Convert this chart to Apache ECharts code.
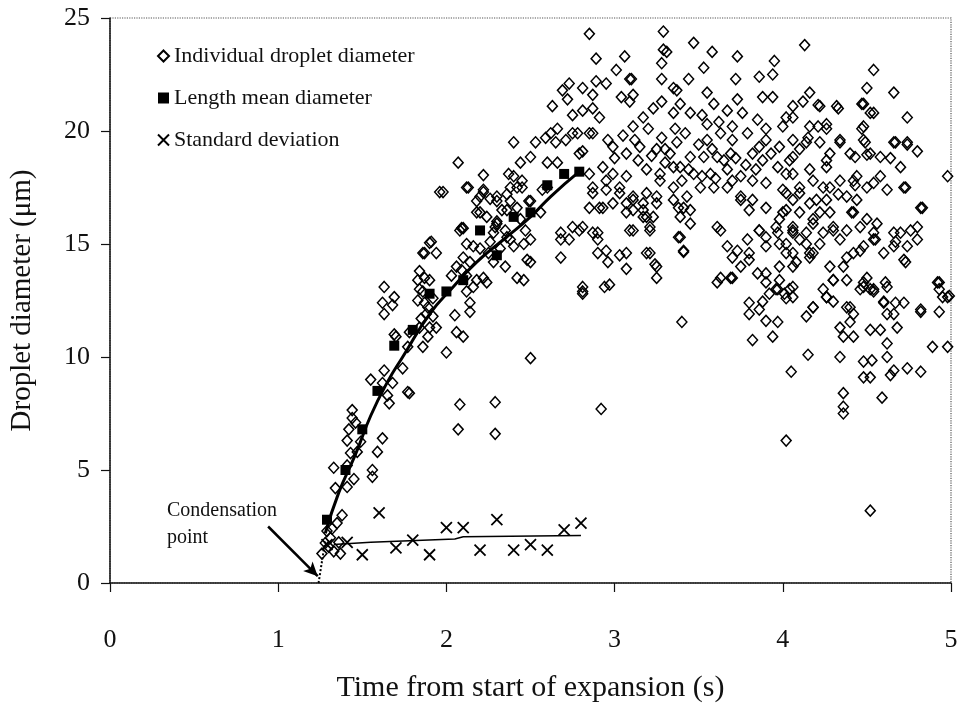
<!DOCTYPE html>
<html>
<head>
<meta charset="utf-8">
<script src="https://cdn.jsdelivr.net/npm/echarts@6/dist/echarts.min.js"></script>
<style>
  html, body { margin: 0; padding: 0; background: #fff; }
  #chart { width: 966px; height: 713px; }
</style>
</head>
<body>
<div id="chart"></div>
<script>
// ---- Data (time s, diameter µm) ----
const individualDroplets = [
  [1.26,1.3],[1.28,1.77],[1.31,2.0],[1.35,2.65],[1.33,1.4],[1.37,1.3],[1.30,1.6],[1.36,1.8],[1.29,2.3],[1.32,2.4],
  [1.34,4.2],[1.33,5.1],[1.41,4.25],[1.45,4.6],[1.41,5.2],[1.43,5.75],[1.41,6.3],[1.42,6.8],[1.44,7.3],[1.47,5.8],
  [1.49,6.25],[1.62,6.4],[1.59,5.8],[1.56,5.0],[1.56,4.7],[1.66,7.95],[1.65,8.3],[1.77,8.45],[1.78,8.4],[2.08,7.9],
  [2.07,6.8],[1.55,9.0],[1.62,8.85],[1.44,7.65],[1.63,9.4],[2.29,8.0],[2.29,6.6],[1.38,3.0],[1.46,7.1],
  [1.96,17.3],[2.12,17.5],[2.22,17.3],[1.91,15.1],[1.87,14.6],[1.94,14.6],[1.63,13.1],[1.69,12.65],[1.62,12.4],[1.63,11.9],
  [1.68,12.3],[1.84,13.8],[1.83,13.4],[1.87,13.5],[1.90,13.4],[1.84,13.0],[1.83,12.5],[1.87,12.4],[1.88,11.9],[1.92,11.8],
  [1.94,11.3],[1.90,11.3],[1.84,11.3],[1.69,11.0],[1.86,10.45],[1.89,10.9],[1.77,10.45],[1.74,9.5],[2.00,10.2],[2.05,11.85],
  [2.06,11.1],[2.10,10.9],[2.14,12.0],[2.14,12.4],[2.12,12.9],[2.16,13.1],[2.09,13.85],[2.14,14.2],[2.10,14.4],[2.12,15.0],
  [2.16,14.9],[2.10,15.7],[2.18,16.4],[2.24,16.2],[2.30,16.0],[2.28,15.5],[2.35,15.6],[2.28,14.2],[2.35,14.0],[2.22,13.5],
  [2.24,13.3],[2.18,13.4],[2.42,13.5],[2.46,13.4],[2.50,14.2],[2.40,14.9],[2.46,15.0],[2.38,15.2],[2.50,15.2],[2.42,16.6],
  [2.50,16.9],[2.56,16.4],[2.57,17.4],[2.42,17.5],[2.68,15.2],[2.68,14.4],[2.50,9.95],[2.30,17.1],[2.18,16.9],[1.78,11.1],
  [1.70,10.9],[1.68,8.85],[1.90,15.05],[1.86,14.6],[2.08,15.6],[2.20,16.4],[2.30,15.9],[2.48,14.3],[2.73,15.2],[2.90,15.2],
  [2.90,14.6],[2.81,15.75],[2.79,19.0],[2.85,19.9],[2.75,19.9],[2.22,18.05],[2.22,17.4],[2.40,19.5],[2.53,19.5],[2.63,21.1],
  [2.81,12.9],[1.86,12.9],[1.89,12.2],[1.92,12.6],[1.85,11.7],[2.03,13.6],[2.06,14.0],[2.12,13.6],[2.20,14.8],[2.25,14.6],
  [2.32,14.8],[2.36,15.3],[2.26,15.1],[2.33,16.5],[2.38,16.9],[2.44,16.1],[2.47,15.6],[2.36,17.2],
  [2.85,24.3],[3.29,24.4],[3.29,23.6],[3.31,23.5],[3.28,23.0],[3.28,22.3],[3.35,21.9],[3.28,21.3],[3.06,23.3],[2.89,23.2],
  [3.01,22.7],[3.09,22.3],[2.95,22.1],[2.89,22.2],[2.81,21.9],[2.87,21.6],[2.73,22.1],[2.69,21.8],[2.72,21.4],[2.81,20.9],
  [2.87,21.0],[2.91,20.6],[2.75,20.7],[3.04,21.5],[3.11,21.6],[3.09,21.3],[2.66,20.1],[2.71,19.6],[2.65,19.5],[2.59,19.7],
  [2.78,19.9],[2.87,19.9],[2.81,19.1],[2.07,18.6],[2.13,17.5],[1.98,17.3],[2.50,18.85],[2.60,18.6],[2.66,18.6],[2.40,18.0],
  [2.45,17.8],[3.11,20.2],[3.17,20.6],[3.23,21.0],[3.35,20.8],[2.99,19.3],[3.07,19.0],[3.15,19.3],[3.25,19.2],[3.33,19.0],
  [2.93,18.4],[2.99,18.1],[3.07,18.0],[3.19,18.3],[3.27,18.1],[3.35,18.4],[2.87,17.5],[2.95,17.4],[3.03,17.25],[3.11,16.95],
  [3.17,16.8],[3.25,17.1],[3.35,16.95],[2.85,16.6],[2.93,16.6],[3.07,16.4],[3.17,16.2],[3.21,15.75],[3.11,15.6],[2.90,15.5],
  [2.79,15.6],[2.09,15.7],[2.29,15.75],[2.36,16.5],[2.30,16.9],[2.20,17.1],[2.26,17.0],[2.49,16.9],[2.68,15.5],[2.75,15.75],
  [2.45,17.5],[2.60,17.5],[2.62,19.9],[2.44,18.6],[2.37,18.1],[2.38,17.5],
  [3.47,23.9],[3.58,23.5],[3.73,23.3],[4.13,23.8],[3.10,22.3],[3.53,22.8],[3.95,23.1],[3.86,22.4],[3.94,22.5],[3.72,22.3],
  [3.44,22.3],[3.37,21.8],[4.54,22.7],[4.50,21.9],[4.66,21.7],[3.88,21.5],[3.94,21.5],[4.16,21.7],[4.22,21.1],[4.32,21.1],
  [4.48,21.2],[4.54,20.8],[4.48,20.2],[4.74,20.6],[3.55,21.7],[3.59,21.2],[3.73,21.4],[3.39,21.2],[3.45,20.8],[3.52,20.7],
  [3.67,20.9],[3.76,20.8],[3.85,20.5],[4.06,21.1],[4.02,20.6],[4.16,20.2],[4.26,20.3],[4.34,19.6],[4.66,19.5],[4.74,19.5],
  [4.80,19.1],[4.70,18.4],[4.98,18.0],[4.73,17.5],[4.83,16.6],[4.76,15.6],[4.80,15.2],[4.72,14.3],[4.93,13.3],[4.66,14.9],
  [4.54,15.2],[4.50,16.1],[4.42,16.4],[4.44,16.95],[4.54,17.7],[4.44,18.0],[4.40,19.0],[4.52,19.0],[4.58,18.85],[4.48,19.6],
  [4.34,17.8],[4.38,17.1],[4.28,17.5],[4.26,18.4],[4.18,17.8],[4.10,17.5],[4.02,18.1],[4.06,18.85],[4.14,19.5],[4.22,19.5],
  [4.28,19.0],[3.97,18.4],[3.98,19.3],[3.90,19.6],[3.79,19.9],[3.82,19.0],[3.88,18.7],[3.70,19.6],[3.63,19.9],[3.55,19.6],
  [3.69,19.0],[3.61,18.85],[3.53,18.85],[3.45,18.85],[3.37,19.5],[3.30,19.2],[3.39,18.4],[3.47,18.1],[3.57,18.1],[3.67,18.3],
  [3.75,18.0],[3.82,17.8],[3.90,17.7],[4.00,17.4],[4.06,16.95],[4.16,16.8],[4.22,16.4],[4.26,16.95],[4.30,15.75],[4.38,15.6],
  [4.34,15.2],[4.42,14.6],[4.48,14.9],[4.54,15.5],[4.66,15.5],[4.18,16.1],[4.14,15.5],[4.06,15.6],[3.98,16.1],[4.02,16.5],
  [3.90,16.6],[3.82,16.95],[3.75,17.1],[3.67,17.5],[3.59,17.5],[3.51,17.5],[3.43,17.1],[3.35,17.5],[3.27,17.8],[3.19,17.25],
  [3.11,17.1],[3.03,17.5],[2.95,17.8],[2.85,18.1],[2.87,17.25],[2.91,16.6],[2.99,16.8],[3.07,16.8],[3.17,16.5],[3.25,16.8],
  [3.41,16.6],[3.39,16.2],[3.23,16.2],[3.21,15.6],[3.09,15.6],[2.87,15.5],[2.95,14.7],[3.07,14.6],[3.21,14.6],[3.25,14.0],
  [3.39,15.3],[3.41,14.7],[2.81,13.1],[2.94,13.1],[3.63,15.6],[3.67,14.9],[3.70,14.4],[3.79,15.2],[3.80,14.6],[3.75,14.0],
  [3.86,15.6],[3.90,14.9],[3.97,15.5],[4.02,15.0],[4.10,15.2],[4.06,14.6],[4.16,14.6],[3.98,14.0],[3.63,13.5],[3.69,13.5],
  [3.90,13.7],[3.98,13.4],[4.24,13.0],[4.30,13.4],[4.48,13.3],[4.54,13.0],[4.61,13.3],[4.93,13.0],
  [2.81,12.8],[3.40,11.55],[2.92,7.7],[3.61,13.3],[3.80,12.4],[3.88,12.45],[3.92,12.8],[3.96,13.0],[4.02,12.6],[4.06,12.65],
  [3.80,11.9],[3.86,12.1],[3.90,11.6],[3.97,11.55],[3.82,10.75],[3.94,10.9],[4.14,11.8],[4.18,12.2],[4.26,12.65],[4.30,12.45],
  [4.38,12.2],[4.42,11.9],[4.40,11.55],[4.34,11.3],[4.36,10.9],[4.42,10.9],[4.48,13.1],[4.54,12.9],[4.60,12.45],[4.52,11.2],
  [4.58,11.2],[4.68,11.3],[4.62,11.9],[4.66,11.9],[4.72,12.4],[4.82,12.0],[4.93,12.0],[4.89,10.45],[4.98,10.45],[4.99,12.7],
  [4.92,13.3],[4.62,10.6],[4.62,10.0],[4.66,9.4],[4.74,9.5],[4.82,9.35],[4.48,9.8],[4.53,9.85],[4.48,9.1],[4.52,9.1],
  [4.64,9.2],[4.34,10.0],[4.15,10.1],[4.05,9.35],[4.36,8.4],[4.36,7.8],[4.36,7.5],[4.59,8.2],[4.02,6.3],[4.52,3.2],
  [4.12,21.3],[4.21,21.15],[4.33,21.0],[4.47,21.2],[4.52,20.8],[4.47,20.1],[4.06,20.6],[4.00,20.2],[4.21,20.2],[4.26,20.1],
  [4.15,19.7],[4.06,19.6],[4.34,19.5],[4.49,19.5],[4.67,19.5],[4.74,19.4],[4.43,18.85],[4.50,18.95],[4.64,18.8],[4.72,17.5],
  [4.82,16.6],[4.56,15.9],[4.70,15.5],[4.80,15.75],[4.74,14.9],[4.67,15.1],[4.60,14.6],[4.73,14.2],[4.55,15.2],[4.46,15.75],
  [4.41,16.4],[4.43,17.6],[4.33,17.2],[4.42,17.8],[4.50,17.5],[4.58,18.0],[4.62,17.4],[4.50,13.5],[4.46,13.0],[4.52,13.0],
  [4.62,13.1],[4.60,12.4],[4.67,12.4],[4.82,12.1],[4.95,12.65],[4.98,12.65],[4.26,12.65],[4.40,12.2],[4.18,12.2],[4.30,13.4],
  [4.38,13.4],[4.28,14.0],[4.36,14.0],[4.46,14.7],[4.38,14.4],[4.18,14.6],[4.06,14.0],[4.06,13.1],[4.01,12.8],[4.22,15.0],
  [4.24,15.5],[4.30,15.6],[4.18,15.9],[4.06,15.5],[4.10,16.4],[4.20,16.95],[4.28,16.4],[4.24,17.5],[4.16,18.3],[4.06,18.1],
  [4.02,17.25],[4.10,17.25],[4.00,16.4],[4.04,18.7],[4.26,18.7],[4.10,19.2],
  [3.19,14.6],[3.24,14.1],[3.38,15.3],[3.41,14.65],[3.70,13.5],[3.11,16.5],[3.19,16.2],[3.38,16.6],[3.45,16.5],[3.45,15.9],
  [3.61,15.75],[3.73,14.7],[3.75,16.95],[3.80,16.5],[3.86,15.6],[3.90,15.3],[3.98,15.0],[3.96,15.75],[4.06,15.75],[4.02,14.6],
  [4.08,14.2],[4.16,14.4],[4.14,15.0],[3.80,14.3],[3.85,13.7],[3.90,13.3],[3.97,13.0],[4.04,13.0],
  [2.96,14.2],[3.07,13.9],[3.25,13.5],[2.97,13.2],[3.03,14.5],
  [3.05,19.8],[3.12,19.6],[3.20,20.1],[3.28,19.7],[3.36,20.1],[3.42,19.9],[3.50,19.4],[3.58,19.2],[3.65,18.7],[3.72,18.8],
  [3.78,18.5],[3.84,18.3],[3.44,18.3],[3.52,18.0],[3.60,17.9],[3.14,18.7],[3.22,18.9],[3.30,18.6],[3.00,18.8],[2.96,19.6],
  [3.40,17.8],[3.70,17.8],[3.86,19.3],[3.93,19.0],[3.55,20.3],[3.62,20.4],[3.70,20.2],[3.90,20.1]
];

const meanTime = [1.29,1.40,1.50,1.59,1.69,1.80,1.90,2.00,2.10,2.20,2.30,2.40,2.50,2.60,2.70,2.79];
const meanDiameter = [2.8,5.0,6.8,8.5,10.5,11.2,12.8,12.9,13.4,15.6,14.5,16.2,16.4,17.6,18.1,18.2];

const sdTime = [1.29,1.41,1.50,1.60,1.70,1.80,1.90,2.00,2.10,2.20,2.30,2.40,2.50,2.60,2.70,2.80];
const sdValue = [1.7,1.8,1.25,3.1,1.55,1.9,1.25,2.45,2.45,1.45,2.8,1.45,1.7,1.45,2.35,2.65];

const meanFitLine = [[1.28,2.2],[1.36,4.0],[1.46,5.7],[1.55,7.4],[1.65,8.9],[1.74,10.0],[1.90,11.9],
  [2.04,13.1],[2.18,14.2],[2.34,15.2],[2.50,16.2],[2.62,17.1],[2.79,18.2]];
const sdFitLine = [[1.33,1.7],[1.55,1.8],[2.05,1.95],[2.10,2.05],[2.80,2.1]];
const condensationLine = [[1.24,0],[1.28,1.9]];
const arrowFrom = [0.94,2.5];
const arrowTo = [1.235,0.3];

const SERIF = "'Liberation Serif', 'Times New Roman', serif";
const crossPath = 'path://M0,0L10,10M10,0L0,10';

const chart = echarts.init(document.getElementById('chart'));
chart.setOption({
  animation: false,
  backgroundColor: '#fff',
  grid: { left: 110, right: 15, top: 18, bottom: 130, show: true,
          borderColor: '#555', borderWidth: 1.2, borderType: 'dotted' },
  legend: {
    data: ['Individual droplet diameter', 'Length mean diameter', 'Standard deviation'],
    orient: 'vertical', left: 152, top: 39, itemGap: 18, itemWidth: 11, itemHeight: 11,
    textStyle: { fontFamily: SERIF, fontSize: 22, color: '#111', lineHeight: 24 }
  },
  xAxis: {
    type: 'value', min: 0, max: 5, interval: 1,
    name: 'Time from start of expansion (s)', nameLocation: 'middle', nameGap: 90,
    nameTextStyle: { fontFamily: SERIF, fontSize: 30, color: '#111' },
    axisLine: { show: true, onZero: false, lineStyle: { color: '#111', width: 1.5 } },
    axisTick: { show: true, length: 9, lineStyle: { color: '#111', width: 1.2 } },
    axisLabel: { fontFamily: SERIF, fontSize: 26, color: '#111', margin: 44 },
    splitLine: { show: false }
  },
  yAxis: {
    type: 'value', min: 0, max: 25, interval: 5,
    name: 'Droplet diameter (μm)', nameLocation: 'middle', nameGap: 73,
    nameTextStyle: { fontFamily: SERIF, fontSize: 29, color: '#111' },
    axisLine: { show: true, lineStyle: { color: '#111', width: 1.5 } },
    axisTick: { show: true, length: 9, lineStyle: { color: '#111', width: 1.2 } },
    axisLabel: { fontFamily: SERIF, fontSize: 26, color: '#111', margin: 20 },
    splitLine: { show: false }
  },
  graphic: [{
    type: 'text', left: 167, top: 497, silent: true,
    style: { text: 'Condensation\npoint', font: "20px 'Liberation Serif', serif", fill: '#111', lineHeight: 27 }
  }],
  series: [
    {
      name: 'Individual droplet diameter', type: 'scatter', symbol: 'diamond', symbolSize: [10, 11],
      data: individualDroplets, z: 2,
      itemStyle: { color: 'rgba(255,255,255,0)', borderColor: '#000', borderWidth: 1.5, opacity: 1 }
    },
    {
      name: 'Mean fit', type: 'line', data: meanFitLine, smooth: true, showSymbol: false, z: 3,
      lineStyle: { color: '#000', width: 3 }
    },
    {
      name: 'Length mean diameter', type: 'scatter', symbol: 'rect', symbolSize: 10, z: 4,
      data: meanTime.map((t, i) => [t, meanDiameter[i]]),
      itemStyle: { color: '#000', opacity: 1 }
    },
    {
      name: 'Standard deviation', type: 'scatter', symbol: crossPath, symbolSize: 11, z: 4,
      data: sdTime.map((t, i) => [t, sdValue[i]]),
      itemStyle: { color: 'rgba(0,0,0,0)', borderColor: '#000', borderWidth: 1.8, opacity: 1 }
    },
    {
      name: 'SD fit', type: 'line', data: sdFitLine, showSymbol: false, z: 3,
      lineStyle: { color: '#000', width: 1.5 }
    },
    {
      name: 'Condensation', type: 'line', data: condensationLine, showSymbol: false, z: 3,
      lineStyle: { color: '#000', width: 2, type: [2, 2] },
      markLine: {
        silent: true, symbol: ['none', 'arrow'], symbolSize: [10, 14],
        label: { show: false },
        lineStyle: { color: '#000', width: 2.5, type: 'solid' },
        data: [[{ coord: arrowFrom }, { coord: arrowTo }]]
      }
    }
  ]
});
</script>
</body>
</html>
